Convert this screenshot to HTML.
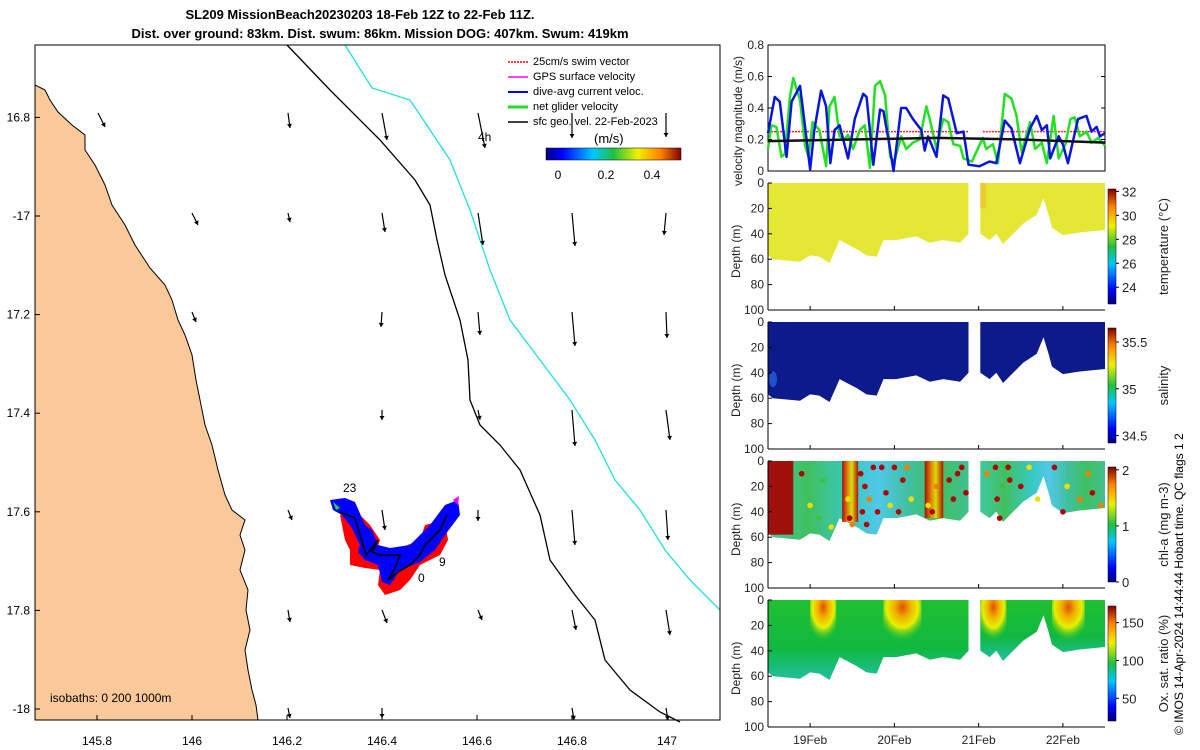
<!DOCTYPE html>
<html><head><meta charset="utf-8"><style>
html,body{margin:0;padding:0;background:#fff;}
svg{display:block;font-family:"Liberation Sans",sans-serif;}
</style></head><body>
<svg id="s" width="1200" height="750" viewBox="0 0 1200 750">
<defs>
<linearGradient id="jetV" x1="0" y1="1" x2="0" y2="0">
<stop offset="0" stop-color="#00007f"/><stop offset="0.12" stop-color="#0000ff"/><stop offset="0.35" stop-color="#00c8ff"/><stop offset="0.5" stop-color="#20c040"/><stop offset="0.68" stop-color="#f0f000"/><stop offset="0.85" stop-color="#ff8000"/><stop offset="1" stop-color="#800000"/></linearGradient>
<linearGradient id="jetH" x1="0" y1="0" x2="1" y2="0">
<stop offset="0" stop-color="#00007f"/><stop offset="0.12" stop-color="#0000ff"/><stop offset="0.35" stop-color="#00c8ff"/><stop offset="0.5" stop-color="#20c040"/><stop offset="0.68" stop-color="#f0f000"/><stop offset="0.85" stop-color="#ff8000"/><stop offset="1" stop-color="#800000"/></linearGradient>
<radialGradient id="oxBlob" cx="0.5" cy="0.15" r="0.7"><stop offset="0" stop-color="#e05000"/><stop offset="0.3" stop-color="#f0b000"/><stop offset="0.6" stop-color="#e8f000"/><stop offset="1" stop-color="#30c030" stop-opacity="0"/></radialGradient>
<linearGradient id="oxBody" x1="0" y1="0" x2="0" y2="1"><stop offset="0" stop-color="#20c030"/><stop offset="0.6" stop-color="#10b840"/><stop offset="1" stop-color="#20c0a0"/></linearGradient>
<linearGradient id="chlBody" x1="0" y1="0" x2="1" y2="0"><stop offset="0" stop-color="#40c8a0"/><stop offset="0.2" stop-color="#40c060"/><stop offset="0.4" stop-color="#38c8c0"/><stop offset="0.55" stop-color="#50c8e8"/><stop offset="0.7" stop-color="#40c0a0"/><stop offset="0.85" stop-color="#40c060"/><stop offset="1" stop-color="#40c090"/></linearGradient>
<linearGradient id="band" x1="0" y1="0" x2="1" y2="0"><stop offset="0" stop-color="#b00000"/><stop offset="0.35" stop-color="#f08000"/><stop offset="0.6" stop-color="#e0e000"/><stop offset="1" stop-color="#c00000"/></linearGradient>
</defs>
<g font-weight="bold" font-size="13" text-anchor="middle">
<text x="360" y="19">SL209 MissionBeach20230203 18-Feb 12Z to 22-Feb 11Z.</text>
<text x="380" y="38">Dist. over ground: 83km. Dist. swum: 86km. Mission DOG: 407km. Swum: 419km</text>
</g>
<g id="map">
<rect x="35" y="45" width="685" height="675" fill="#fff"/>
<path d="M35,45 L35,85 L45,90 L50,100 L58,112 L72,125 L85,135 L85,150 L95,165 L105,185 L112,205 L125,225 L135,245 L150,268 L165,285 L172,300 L178,320 L185,335 L192,355 L196,380 L200,400 L205,425 L212,445 L218,470 L225,495 L232,510 L245,520 L240,535 L245,550 L240,570 L248,590 L246,610 L250,630 L245,650 L248,670 L252,690 L256,705 L258,720 L35,720 Z" fill="#fac99a" stroke="#000" stroke-width="1"/>
<path d="M287,45 L330,90 L380,140 L415,180 L430,205 L437,240 L445,275 L460,320 L468,360 L470,400 L480,425 L500,445 L520,470 L540,515 L550,560 L575,595 L595,620 L605,660 L630,690 L660,712 L680,722" fill="none" stroke="#000" stroke-width="1.3"/>
<path d="M345,45 L372,88 L410,100 L450,160 L470,210 L490,270 L510,320 L540,360 L570,400 L595,440 L615,480 L640,510 L665,550 L690,580 L720,610" fill="none" stroke="#1ee0e0" stroke-width="1.3"/>
<g id="arrows"></g>
<g>
<path fill="#ff0000" d="M340,515 L355,510 L370,525 L380,540 L375,555 L390,560 L395,550 L420,540 L425,525 L445,520 L448,540 L440,555 L420,565 L410,580 L400,590 L385,595 L378,585 L380,570 L365,568 L350,565 L350,550 L345,540 Z"/>
<path fill="#0000ff" d="M330,500 L345,498 L355,502 L365,525 L372,530 L378,545 L390,548 L410,545 L430,525 L445,505 L458,500 L460,515 L445,535 L435,550 L420,562 L400,570 L390,585 L382,582 L378,565 L365,560 L358,552 L360,545 L352,528 L342,515 L333,510 Z"/>
<path fill="none" stroke="#000" stroke-width="1.6" d="M340,512 L355,518 L360,535 L366,555 L372,548 L378,540 L372,552 L380,555 L400,555 L395,568 L388,580 L398,572 L410,565 L420,555 L425,545 L440,530 L447,515"/>
<path fill="#22dd22" d="M333,502 L340,508 L336,510 Z"/>
<path fill="#ff00ff" d="M453,500 L459,496 L458,505 Z"/>
<text x="343" y="492" font-size="12">23</text>
<text x="439" y="566" font-size="12">9</text>
<text x="418" y="582" font-size="12">0</text>
</g>
<g font-size="11">
<line x1="508" y1="62" x2="528" y2="62" stroke="#ff0000" stroke-width="1.5" stroke-dasharray="2,1"/><text x="533" y="65">25cm/s swim vector</text>
<line x1="508" y1="77" x2="528" y2="77" stroke="#ff00ff" stroke-width="1.5"/><text x="533" y="80">GPS surface velocity</text>
<line x1="508" y1="92" x2="528" y2="92" stroke="#0000ff" stroke-width="2"/><text x="533" y="95">dive-avg current veloc.</text>
<line x1="508" y1="107" x2="528" y2="107" stroke="#22dd22" stroke-width="3"/><text x="533" y="110">net glider velocity</text>
<line x1="508" y1="122" x2="528" y2="122" stroke="#000" stroke-width="1.5"/><text x="533" y="125">sfc geo. vel. 22-Feb-2023</text>
<text x="478" y="141" font-size="12">4h</text>
<text x="594" y="143" font-size="13">(m/s)</text>
<rect x="546" y="148" width="135" height="12" fill="url(#jetH)" stroke="#000" stroke-width="0.5"/>
<text x="558" y="179" text-anchor="middle" font-size="12">0</text><text x="606" y="179" text-anchor="middle" font-size="12">0.2</text><text x="652" y="179" text-anchor="middle" font-size="12">0.4</text>
</g>
<text x="50" y="702" font-size="12">isobaths: 0   200   1000m</text>
<rect x="35" y="45" width="685" height="675" fill="none" stroke="#000" stroke-width="1"/>
<g id="mapTicks" font-size="12"></g>
</g>
<g id="vel"></g>
<g id="prof"></g>
<text transform="translate(1183,735) rotate(-90)" font-size="12">© IMOS 14-Apr-2024 14:44:44 Hobart time. QC flags 1  2</text>
</svg>
<script>
const NS="http://www.w3.org/2000/svg";
function mk(tag,attrs,parent,txt){const e=document.createElementNS(NS,tag);for(const k in attrs)e.setAttribute(k,attrs[k]);if(txt!==undefined)e.textContent=txt;parent.appendChild(e);return e;}
// ---- map axes ----
const lonTicks=[145.8,146,146.2,146.4,146.6,146.8,147];
const latTicks=[16.8,-17,17.2,17.4,17.6,17.8,-18];
const latVals=[-16.8,-17,-17.2,-17.4,-17.6,-17.8,-18];
const lonX=v=>192+(v-146)*475;
const latY=v=>216+(-17-v)*493;
const mt=document.getElementById('mapTicks');
lonTicks.forEach(v=>{const x=lonX(v);
const t=mk('text',{x:x,y:745,'text-anchor':'middle'},mt,String(v));


mk('line',{x1:x,y1:720,x2:x,y2:715,stroke:'#000'},mt);});
latVals.forEach((v,i)=>{const y=latY(v);
const t=mk('text',{x:30,y:y+4,'text-anchor':'end'},mt,String(latTicks[i]));


mk('line',{x1:35,y1:y,x2:40,y2:y,stroke:'#000'},mt);});
// ---- arrows ----
const arrowCols=[98,192,288,382,478,572,666];
const arrowRows=[113,213,312,410,510,610,708];
const arrowU=[[7,0,2,5,7,0,0],[0,6,2,3,5,3,-2],[0,4,0,-1,2,3,1],[0,0,0,0,2,3,4],[0,0,4,3,0,3,2],[0,0,2,5,4,4,4],[0,0,2,0,0,2,2]];
const arrowV=[[14,0,15,27,35,25,24],[0,12,9,19,32,33,22],[0,10,0,15,23,34,26],[0,0,0,10,10,36,30],[0,0,10,20,11,35,30],[0,0,12,13,10,20,25],[0,0,10,10,0,12,12]];
const ag=document.getElementById('arrows');
arrowRows.forEach((y,r)=>arrowCols.forEach((x,c)=>{const u=arrowU[r][c],v=arrowV[r][c];if(!u&&!v)return;
const g=mk('g',{},ag);


const x2=x+u,y2=y+v;mk('line',{x1:x,y1:y,x2:x2,y2:y2,stroke:'#000','stroke-width':1.2},g);
const L=Math.hypot(u,v),ux=u/L,uy=v/L,h=4;
mk('path',{d:`M${x2},${y2} L${x2-h*ux+2.5*uy},${y2-h*uy-2.5*ux} L${x2-h*ux-2.5*uy},${y2-h*uy+2.5*ux} Z`,fill:'#000'},g);}));
// ---- right panels ----
const X0=768,X1=1105;
const tx=d=>X0+d/4*(X1-X0);
const dayTicks=[0.5,1.5,2.5,3.5];
const dayLabels=['19Feb','20Feb','21Feb','22Feb'];
const vel=document.getElementById('vel');
const VY0=171,VY1=45;const vy=v=>VY0-(v/0.8)*(VY0-VY1);
const blueT=[0,0.08,0.14,0.22,0.28,0.38,0.44,0.5,0.55,0.63,0.69,0.74,0.79,0.85,0.95,1.03,1.13,1.17,1.25,1.33,1.37,1.43,1.49,1.58,1.64,1.72,1.82,1.86,1.9,2,2.08,2.14,2.24,2.32,2.38,2.51,2.63,2.71,2.81,2.89,2.99,3.11,3.19,3.25,3.31,3.35,3.45,3.5,3.56,3.68,3.78,3.84,3.9,3.94,4];
const blueV=[0.24,0.47,0.44,0.09,0.44,0.54,0.28,0.01,0.26,0.51,0.41,0.05,0.26,0.29,0.08,0.33,0.49,0.47,0.04,0.39,0.38,0.2,0,0.4,0.4,0.33,0.26,0.13,0.22,0.09,0.48,0.46,0.24,0.25,0.04,0.03,0.06,0.05,0.32,0.27,0.05,0.27,0.35,0.26,0.29,0.08,0.22,0.17,0.05,0.33,0.35,0.25,0.28,0.22,0.24];
const greenT=[0,0.04,0.1,0.16,0.2,0.26,0.3,0.38,0.44,0.48,0.53,0.61,0.69,0.73,0.79,0.85,0.91,0.95,1.01,1.09,1.15,1.21,1.27,1.33,1.39,1.45,1.5,1.58,1.64,1.72,1.8,1.88,1.92,2,2.08,2.14,2.2,2.28,2.32,2.42,2.55,2.59,2.67,2.73,2.81,2.89,2.95,3.01,3.11,3.17,3.25,3.31,3.39,3.45,3.53,3.59,3.64,3.7,3.78,3.84,3.92,4];
const greenV=[0.14,0.29,0.28,0.09,0.11,0.47,0.59,0.45,0.16,0.09,0.31,0.26,0.03,0.41,0.47,0.22,0.2,0.23,0.14,0.26,0.29,0.02,0.54,0.57,0.48,0.09,0.06,0.22,0.14,0.18,0.2,0.41,0.33,0.14,0.33,0.31,0.17,0.16,0.08,0.06,0.21,0.14,0.17,0.05,0.49,0.46,0.35,0.12,0.31,0.14,0.18,0.05,0.35,0.08,0.17,0.33,0.34,0.22,0.25,0.18,0.21,0.16];
const swimT=[0,2.38,2.55,4];const swimV=[0.25,0.25,0.25,0.25];
const geoT=[0,1,2,3,4];const geoV=[0.19,0.2,0.21,0.2,0.18];
// chl scattered samples: time (days), depth (m), value (mg m-3)
const chlDotT=[0.4,0.5,0.6,0.75,0.65,1.1,1.12,1.15,1.17,1.2,1.25,1.3,1.35,1.4,1.45,1.5,1.55,1.6,1.65,1.7,2.15,2.2,2.25,2.3,2.35,2.6,2.7,2.72,2.75,2.78,2.85,2.87,3.0,3.1,3.2,3.4,3.5,3.55,3.7,3.8,3.85,3.95,0.95,0.97,1.0,1.9,1.95,2.0];
const chlDotD=[10,35,45,52,15,10,40,20,50,30,5,40,5,25,35,5,40,15,5,30,15,30,10,5,25,10,5,30,45,20,5,15,20,5,30,5,40,20,30,10,25,35,30,45,50,35,40,20];
const chlDotV=[2,1.3,1,1.3,1.2,2,2,2,2,1.5,2,2,2,2,1.4,2,2,2,1.5,1.3,2,2,2,2,2,1.5,2,2,2,1.2,1.8,1.8,2,1.4,1.3,2,2,1.3,1.5,1.5,2,1.5,1.3,2,1.5,1.3,2,1.5];
mk('rect',{x:X0,y:VY1,width:X1-X0,height:VY0-VY1,fill:'#fff',stroke:'#000'},vel);
function poly(T,V,col,w,dash,name){const p=mk('polyline',{points:T.map((t,i)=>tx(t)+','+vy(V[i])).join(' '),fill:'none',stroke:col,'stroke-width':w,'stroke-linejoin':'round'},vel);if(dash)p.setAttribute('stroke-dasharray',dash);

return p;}
poly(swimT.slice(0,2),swimV.slice(0,2),'#ff2020',1.5,'2,1','swim-speed-line-a');
poly(swimT.slice(2),swimV.slice(2),'#ff2020',1.5,'2,1','swim-speed-line-b');
poly(greenT,greenV,'#22e022',2.5,null,'net-glider-velocity-line');
poly(blueT,blueV,'#0a14e0',2.5,null,'current-velocity-line');
poly(geoT,geoV,'#111',2.5,null,'geo-velocity-line');
[0,0.2,0.4,0.6,0.8].forEach(v=>{const y=vy(v);
const t=mk('text',{x:X0-4,y:y+4,'text-anchor':'end','font-size':12,fill:'#222'},vel,String(v));


mk('line',{x1:X0,y1:y,x2:X0+4,y2:y,stroke:'#000'},vel);mk('line',{x1:X1,y1:y,x2:X1-4,y2:y,stroke:'#000'},vel);});
const vt=mk('text',{transform:'translate(742,186) rotate(-90)','font-size':12,fill:'#222'},vel,'velocity magnitude (m/s)');


// profiles
const bottomT=[0,0.06,0.38,0.5,0.61,0.73,0.85,1.05,1.17,1.29,1.37,1.52,1.76,1.92,2.08,2.28,2.38,2.52,2.63,2.71,2.79,2.91,3.03,3.19,3.27,3.33,3.37,3.5,3.7,4];
const bottomD=[57,60,62,57,58,63,45,52,57,58,45,45,42,47,45,47,40,40,45,40,48,40,32,25,12,25,35,41,39,37];
const panelTops=[183,322,461,600];const PH=127;
const panelNames=['temperature','salinity','chl-a','oxygen'];
const cbLabels=[['32','30','28','26','24'],['35.5','35','34.5'],['2','1','0'],['150','100','50']];
const cbVals=[[32,30,28,26,24],[35.5,35,34.5],[2,1,0],[150,100,50]];
const cbRange=[[22.6,32.2],[34.42,35.65],[0,2.05],[20,172]];
const titles=['temperature (°C)','salinity','chl-a (mg m-3)','Ox. sat. ratio (%)'];
const fills=['#e4e834','#0c1a8c','url(#chlBody)','url(#oxBody)'];
const pr=document.getElementById('prof');
const oxT0=[0.5,1.37,2.52,3.37];const oxT1=[0.81,1.82,2.83,3.76];
const chlT0=[0.0,0.88,1.86];const chlT1=[0.3,1.07,2.08];const chlBandD=[58,48,45];
const chlColor=v=>v>=1.8?'#b00000':v>=1.45?'#f08000':v>=1.25?'#e8e000':'#40c040';
panelTops.forEach((top,k)=>{
const g=mk('g',{},pr);


const dy=d=>top+d/100*PH;
const seg=(a,b)=>{let pts=[tx(bottomT[a])+','+dy(0)];for(let i=a;i<=b;i++)pts.push(tx(bottomT[i])+','+dy(bottomD[i]));pts.push(tx(bottomT[b])+','+dy(0));return pts.join(' ');};
[[0,16],[17,29]].forEach(([a,b])=>{
const p=mk('polygon',{points:seg(a,b),fill:fills[k]},g);

});
if(k===3){oxT0.forEach((t,i)=>{const r=mk('rect',{x:tx(t),y:dy(0),width:tx(oxT1[i])-tx(t),height:dy(38)-dy(0),fill:'url(#oxBlob)'},g);

});}
if(k===2){chlT0.forEach((t,i)=>{const r=mk('rect',{x:tx(t),y:dy(0),width:tx(chlT1[i])-tx(t),height:dy(chlBandD[i])-dy(0),fill:i===0?'#a80000':'url(#band)',opacity:0.92},g);

});
chlDotT.forEach((t,i)=>{const c=mk('circle',{cx:tx(t),cy:dy(chlDotD[i]),r:2.8,fill:chlColor(chlDotV[i])},g);

});}
if(k===0){mk('rect',{x:tx(2.52),y:dy(0),width:6,height:dy(20)-dy(0),fill:'#f0c030',opacity:0.7},g);}
if(k===1){mk('ellipse',{cx:tx(0.06),cy:dy(45),rx:4,ry:8,fill:'#2050d0'},g);}
mk('line',{x1:X0,y1:dy(0),x2:X0,y2:dy(100),stroke:'#000'},g);
mk('line',{x1:X0,y1:dy(100),x2:X1,y2:dy(100),stroke:'#000'},g);
[0,20,40,60,80,100].forEach(d=>{
const t=mk('text',{x:X0-4,y:dy(d)+4,'text-anchor':'end','font-size':12,fill:'#222'},g,String(d));


mk('line',{x1:X0,y1:dy(d),x2:X0+4,y2:dy(d),stroke:'#000'},g);});
dayTicks.forEach(d=>mk('line',{x1:tx(d),y1:dy(100),x2:tx(d),y2:dy(100)-4,stroke:'#000'},g));
const yt=mk('text',{transform:`translate(740,${top+95}) rotate(-90)`,'font-size':12,fill:'#222'},g,'Depth (m)');


const cy0=top+6,cy1=top+121;
const cb=mk('rect',{x:1108,y:cy0,width:8,height:cy1-cy0,fill:'url(#jetV)',stroke:'#000','stroke-width':0.5},g);


const [lo,hi]=cbRange[k];
cbVals[k].forEach((v,i)=>{const y=cy1-(v-lo)/(hi-lo)*(cy1-cy0);
mk('line',{x1:1116,y1:y,x2:1119,y2:y,stroke:'#000'},g);
const t=mk('text',{x:1122,y:y+5,'font-size':13,fill:'#222'},g,cbLabels[k][i]);

});
const tt=mk('text',{transform:`translate(1168,${top+PH/2}) rotate(-90)`,'font-size':13,'text-anchor':'middle',fill:'#222'},g,titles[k]);


});
dayTicks.forEach((d,i)=>{const t=mk('text',{x:tx(d),y:744,'text-anchor':'middle','font-size':12,fill:'#222'},pr,dayLabels[i]);

});
</script>
</body></html>
